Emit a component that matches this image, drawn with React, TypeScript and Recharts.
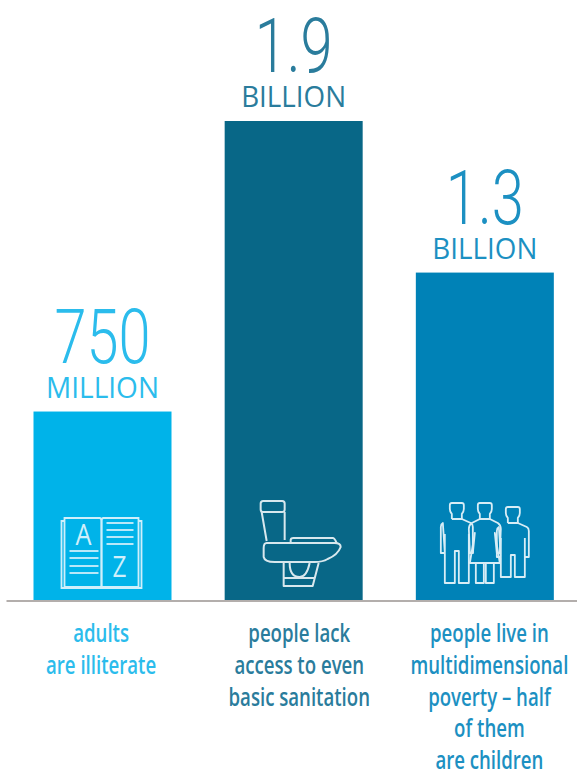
import { BarChart, Bar, Cell, XAxis, YAxis, LabelList } from 'recharts';

// Values in billions of people
const categories = ['adults', 'sanitation', 'poverty'];
const values = [0.75, 1.9, 1.3];
const bigLabels = ['750', '1.9', '1.3'];
const unitLabels = ['MILLION', 'BILLION', 'BILLION'];
const tickLines = [
  ['adults', 'are illiterate'],
  ['people lack', 'access to even', 'basic sanitation'],
  ['people live in', 'multidimensional', 'poverty – half', 'of them', 'are children'],
];

const COLORS = ['#00b3e9', '#086787', '#0082b7'];
const TEXT_COLORS = ['#2bbcec', '#2a7c9c', '#1c90c2'];
const ICON_STROKE = ['#cfeffb', '#d8e8ee', '#d8edf6'];

// Measured text widths, the fonts here are wider than the original condensed face
const BIG_WIDTHS = [96, 78, 78];
const UNIT_WIDTHS = [113, 105, 105];
const TICK_DX = [-1, 6, 5];
const TICK_SCALE = 0.745;

const data = categories.map((name, i) => ({ name, value: values[i] }));

function BookIcon({ stroke }: { stroke: string }) {
  const leftLines = [50, 57, 65, 72];
  const rightLines = [22, 29, 36, 43];
  return (
    <g fill="none" stroke={stroke} strokeWidth={1.8}>
      <path d="M31 17 H66 Q68 17 68 20 V86 H31 Z" />
      <path d="M105 17 H70 Q68 17 68 20 V86 H105 Z" />
      <path d="M31 20 H28 V87 H108 V20 H105" />
      {leftLines.map((y) => <path key={y} d={`M36 ${y} H65`} />)}
      {rightLines.map((y) => <path key={y} d={`M73 ${y} H100`} />)}
      <text x={50} y={44} textAnchor="middle" fontFamily="Open Sans" fontWeight={400} fontSize={29} fill={stroke} stroke="none" textLength={16} lengthAdjust="spacingAndGlyphs">A</text>
      <text x={86} y={76} textAnchor="middle" fontFamily="Open Sans" fontWeight={400} fontSize={29} fill={stroke} stroke="none" textLength={14} lengthAdjust="spacingAndGlyphs">Z</text>
    </g>
  );
}

function ToiletIcon({ stroke }: { stroke: string }) {
  return (
    <g fill="none" stroke={stroke} strokeWidth={2} strokeLinejoin="round">
      <rect x={36} y={0} width={24} height={11} rx={2.5} />
      <path d="M37 11 L42 40 M60 11 V39" />
      <path d="M66 42 V39 Q66 37 69 37 H108 Q110 37 112 42" />
      <path d="M42 42 H110 Q116 42 116 46 Q113 54 103 58 Q98 61 90 61 H50 Q40 61 39 56 V47 Q39 42 42 42 Z" />
      <path d="M59 61 V85 H88 L94 62" />
      <path d="M59 77 H90" />
      <path d="M65 62 Q65 76 75 76 Q82 76 85 62" />
    </g>
  );
}

function PersonIcon({ cx, top, legs, dress, stroke }: { cx: number; top: number; legs: number; dress?: boolean; stroke: string }) {
  const body = dress
    ? `M-5 16 H5 L13 20 Q16 22 16 26 L15 50 H12 L10 30 L15 60 H-15 L-10 30 L-12 50 H-15 L-16 26 Q-16 22 -13 20 Z`
    : `M-5 16 H5 L14 20 Q16 21 16 24 V50 H12 V31 M12 50 V${legs} H2 V48 H-2 V${legs} H-12 V31 M-12 50 H-16 V24 Q-16 21 -14 20 Z`;
  return (
    <g transform={`translate(${cx} ${top})`} fill="none" stroke={stroke} strokeWidth={1.8} strokeLinejoin="round">
      <path d="M-5 16 V11 Q-7 9 -7 6 V2 Q-7 0 -5 0 H5 Q7 0 7 2 V6 Q7 9 5 11 V16" />
      <path d={body} />
      {dress && <path d={`M-9 60 V${legs} H-1 V60 M1 60 V${legs} H9 V60`} />}
    </g>
  );
}

function PeopleIcon({ stroke }: { stroke: string }) {
  return (
    <g>
      <PersonIcon cx={41} top={2} legs={80} stroke={stroke} />
      <PersonIcon cx={69} top={2} legs={80} dress stroke={stroke} />
      <PersonIcon cx={97} top={6} legs={70} stroke={stroke} />
    </g>
  );
}

// Bar rectangle plus its white line icon, which sits 100px above the baseline
function BarWithIcon(props: any) {
  const { x, y, width, height, index } = props;
  const stroke = ICON_STROKE[index];
  return (
    <g>
      <rect x={x} y={y} width={width} height={height} fill={COLORS[index]} />
      <g transform={`translate(${x} ${y + height - 100})`}>
        {index === 0 && <BookIcon stroke={stroke} />}
        {index === 1 && <ToiletIcon stroke={stroke} />}
        {index === 2 && <PeopleIcon stroke={stroke} />}
      </g>
    </g>
  );
}

function ValueLabel(props: any) {
  const { x, y, width, index } = props;
  const cx = x + width / 2;
  return (
    <g textAnchor="middle" fill={TEXT_COLORS[index]}>
      <text x={cx} y={y - 49} fontFamily="Roboto" fontSize={76} fontWeight={300} textLength={BIG_WIDTHS[index]} lengthAdjust="spacingAndGlyphs">
        {bigLabels[index]}
      </text>
      <text x={cx} y={y - 14} fontFamily="Open Sans" fontSize={29} fontWeight={500} textLength={UNIT_WIDTHS[index]} lengthAdjust="spacingAndGlyphs">
        {unitLabels[index]}
      </text>
    </g>
  );
}

function CategoryTick(props: any) {
  const { x, payload } = props;
  const i = payload.index;
  return (
    <g textAnchor="middle" fontFamily="Open Sans" fontWeight={600} fontSize={25} fill={TEXT_COLORS[i]}>
      {tickLines[i].map((line, n) => (
        <text key={line} transform={`translate(${x + TICK_DX[i]} ${642 + n * 31.8}) scale(${TICK_SCALE} 1)`}>
          {line}
        </text>
      ))}
    </g>
  );
}

export default function App() {
  return (
    <div style={{ position: 'absolute', left: 0, top: 0, width: 577, height: 779, overflow: 'hidden', background: '#fff' }}>
      <BarChart
        width={581}
        height={779}
        data={data}
        margin={{ top: 121, right: 1, bottom: 0, left: 6.5 }}
      >
        <XAxis
          dataKey="name"
          height={178}
          interval={0}
          tickLine={false}
          axisLine={{ stroke: '#b3aeac', strokeWidth: 2 }}
          tick={CategoryTick}
        />
        <YAxis hide domain={[0, 1.9]} />
        <Bar dataKey="value" barSize={138} isAnimationActive={false} shape={BarWithIcon}>
          {data.map((d, i) => (
            <Cell key={d.name} fill={COLORS[i]} />
          ))}
          <LabelList dataKey="value" content={ValueLabel} />
        </Bar>
      </BarChart>
    </div>
  );
}
